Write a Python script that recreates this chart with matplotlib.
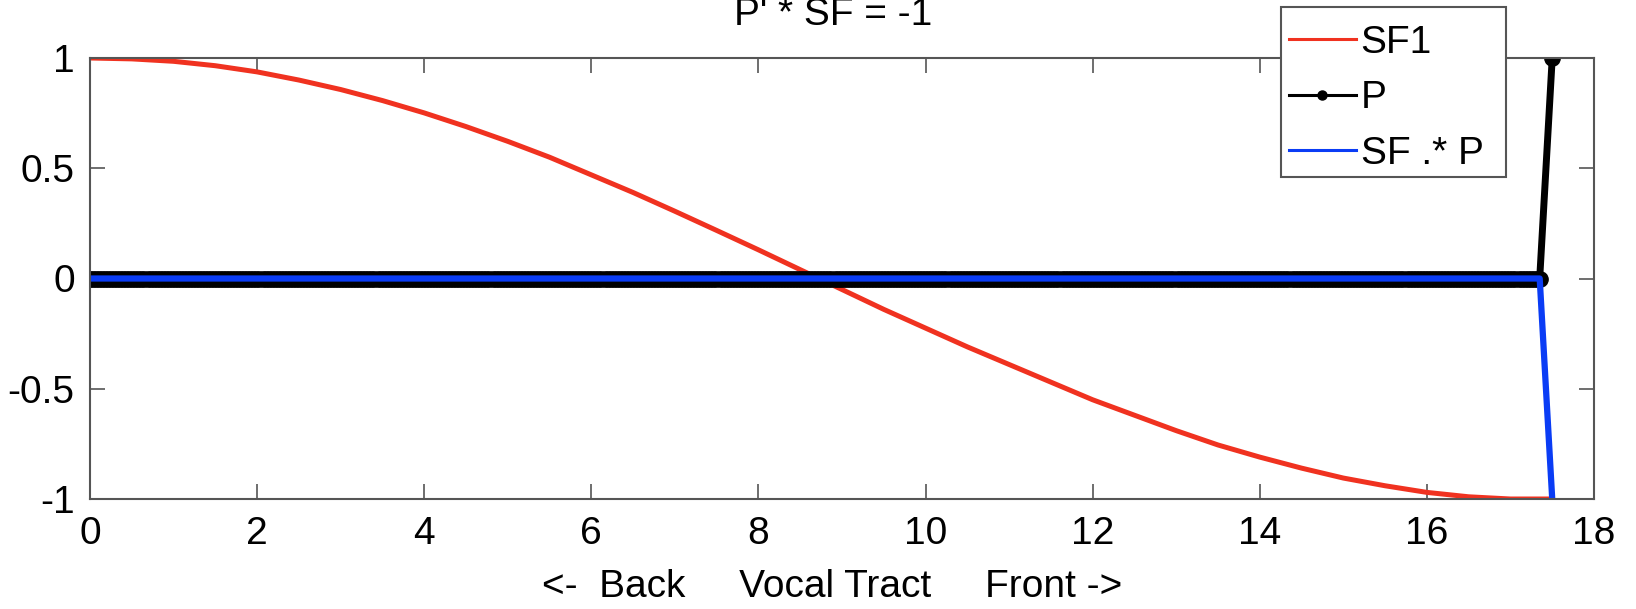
import numpy as np
import matplotlib
matplotlib.use("Agg")
import matplotlib.pyplot as plt
from matplotlib.patches import Rectangle

# SF1 curve
sf_x = [0, 0.5, 1, 1.5, 2, 2.5, 3, 3.5, 4, 4.5, 5, 5.5, 6, 6.5, 7, 7.5, 8, 8.5,
        9, 9.5, 10, 10.5, 11, 11.5, 12, 12.5, 13, 13.5, 14, 14.5, 15, 15.5,
        16, 16.5, 17, 17.5]
sf_y = [1.0, 0.996, 0.985, 0.965, 0.937, 0.90, 0.857, 0.807, 0.751, 0.689,
        0.622, 0.55, 0.47, 0.39, 0.305, 0.218, 0.13, 0.04, -0.05, -0.14,
        -0.225, -0.31, -0.39, -0.47, -0.55, -0.62, -0.69, -0.755, -0.81,
        -0.86, -0.905, -0.94, -0.97, -0.99, -1.0, -1.0]

# P and SF .* P: zero along the tract, a single spike at the front end
n_zero = 480
p_x = list(np.linspace(0, 17.35, n_zero)) + [17.5]
p_y = [0.0] * n_zero + [1.0]
prod_y = [0.0] * n_zero + [-1.0]

x_ticks = [0, 2, 4, 6, 8, 10, 12, 14, 16, 18]
y_ticks = [-1, -0.5, 0, 0.5, 1]
y_labels = ["-1", "-0.5", "0", "0.5", "1"]

plt.rcParams["font.family"] = ["Liberation Sans", "DejaVu Sans"]
W, H = 1636, 609
fig = plt.figure(figsize=(W / 100, H / 100), dpi=100)
ax = fig.add_axes([90 / W, 1 - 499 / H, (1594 - 90) / W, (499 - 58) / H])

ax.plot(sf_x, sf_y, color="#f03220", lw=3.6, label="SF1")
ax.plot(p_x, p_y, color="black", lw=5, marker=".", ms=22, label="P")
ax.plot(p_x, prod_y, color="#0a3cf5", lw=4.5, label="SF .* P")

ax.set_xlim(0, 18)
ax.set_ylim(-1, 1)
ax.set_xticks(x_ticks)
ax.set_yticks(y_ticks)
ax.set_yticklabels(y_labels)
ax.tick_params(direction="in", length=11, width=1.2, color="#555555",
               labelsize=28, top=True, right=True)
ax.tick_params(axis="x", pad=12)
ax.tick_params(axis="y", pad=11)
for s in ax.spines.values():
    s.set_color("#555555")
    s.set_linewidth(1.5)

fig.text(833 / W, 1 - 25 / H, "P' * SF = -1", ha="center", va="baseline", fontsize=28)
fig.text(832 / W, 1 - 597 / H, "<-  Back     Vocal Tract     Front ->", ha="center",
         va="baseline", fontsize=28)

# legend box drawn by hand (MATLAB-style extra right padding)
box = Rectangle((1281 / W, 1 - 177 / H), (1506 - 1281) / W, 170 / H,
                transform=fig.transFigure, facecolor="white",
                edgecolor="#555555", lw=1.5, zorder=4.9, clip_on=False)
ax.add_patch(box)
leg = ax.legend(loc="upper left", bbox_to_anchor=(1281 / W, 1 - 17 / H),
                bbox_transform=fig.transFigure, borderaxespad=0, fontsize=28,
                handlelength=1.72, handletextpad=0.13, labelspacing=0.5,
                borderpad=0.2, frameon=False)
leg.set_zorder(6)
for line in leg.get_lines():
    line.set_linewidth(2.2)
    line.set_markersize(13)

fig.savefig("out.png", dpi=100)
